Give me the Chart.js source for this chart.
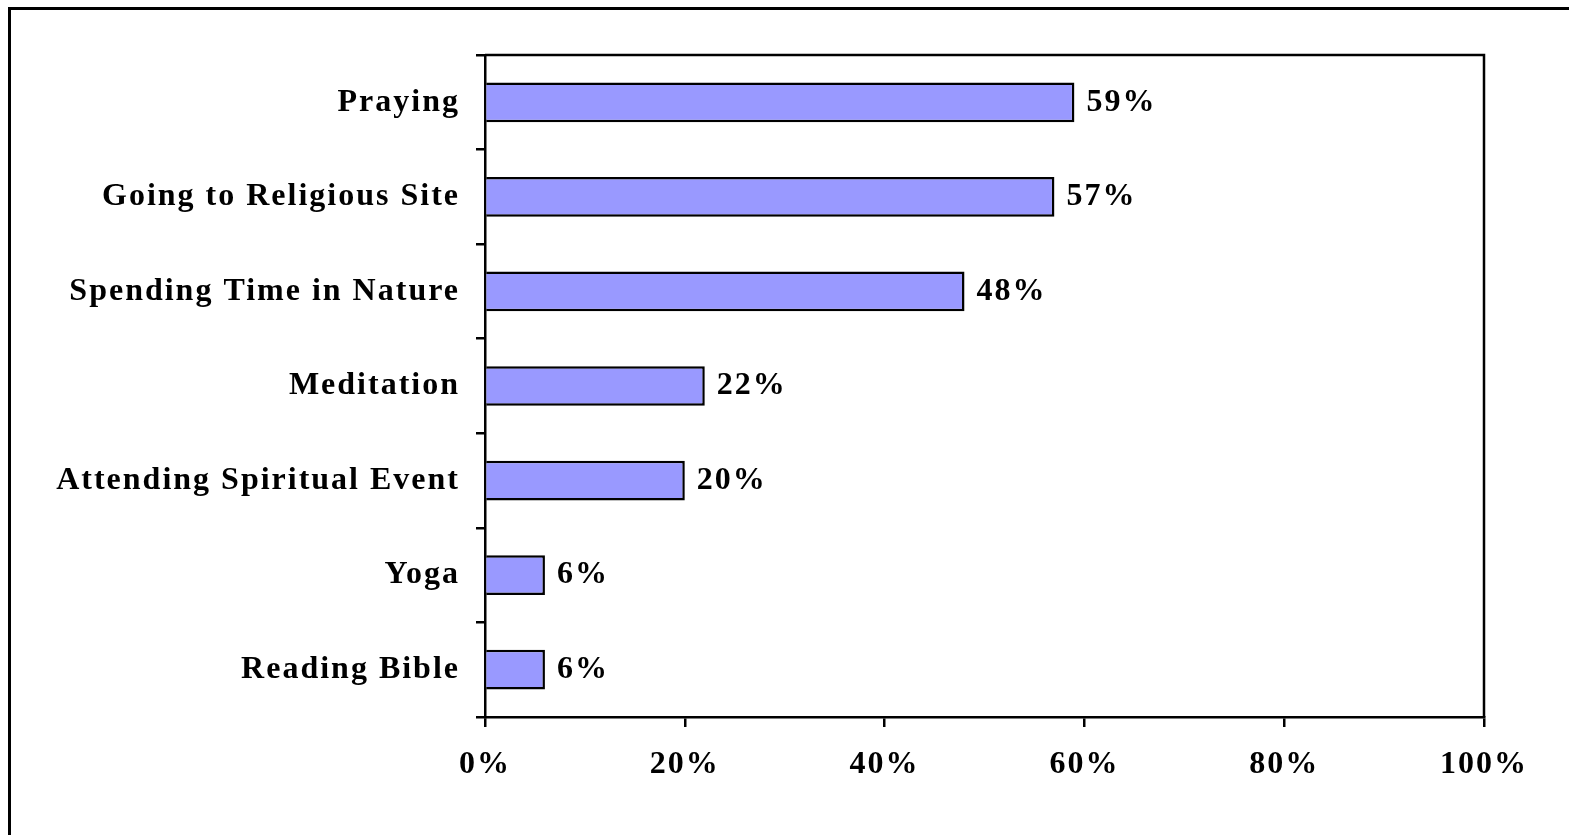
<!DOCTYPE html>
<html>
<head>
<meta charset="utf-8">
<script src="https://cdn.jsdelivr.net/npm/chart.js@4/dist/chart.umd.min.js"></script>
<style>
  html, body { margin: 0; padding: 0; background: #fff; }
  #wrap { position: relative; width: 1569px; height: 835px; overflow: hidden; }
  #frame { position: absolute; left: 8px; top: 7px; width: 1600px; height: 900px; border-left: 3px solid #000; border-top: 3px solid #000; box-sizing: border-box; }
  #c { position: absolute; left: 0; top: 0; }
</style>
</head>
<body>
<div id="wrap">
  <div id="frame"></div>
  <canvas id="c" width="1569" height="835"></canvas>
</div>
<script>
const categories = ["Praying", "Going to Religious Site", "Spending Time in Nature", "Meditation", "Attending Spiritual Event", "Yoga", "Reading Bible"];
const values = [59, 57, 48, 22, 20, 6, 6];
const xTicks = [0, 20, 40, 60, 80, 100];

const FONT = "'Liberation Serif', 'Times New Roman', serif";
const SPACING = '2px';

const spacingPlugin = {
  id: 'spacing',
  beforeLayout(chart) { chart.ctx.letterSpacing = SPACING; },
  beforeDraw(chart) { chart.ctx.letterSpacing = SPACING; }
};

const borderPlugin = {
  id: 'areaBorder',
  afterDraw(chart) {
    const { ctx, chartArea: a } = chart;
    ctx.save();
    ctx.strokeStyle = '#000';
    ctx.lineWidth = 2.5;
    ctx.beginPath();
    ctx.moveTo(a.left, a.top);
    ctx.lineTo(a.right, a.top);
    ctx.lineTo(a.right, a.bottom);
    ctx.stroke();
    ctx.restore();
  }
};

const valueLabels = {
  id: 'valueLabels',
  afterDatasetsDraw(chart) {
    const { ctx } = chart;
    const meta = chart.getDatasetMeta(0);
    ctx.save();
    ctx.letterSpacing = SPACING;
    ctx.fillStyle = '#000';
    ctx.font = "bold 32px " + FONT;
    ctx.textAlign = 'left';
    ctx.textBaseline = 'middle';
    meta.data.forEach((bar, i) => {
      ctx.fillText(values[i] + '%', bar.x + 12, bar.y);
    });
    ctx.restore();
  }
};

new Chart(document.getElementById('c'), {
  type: 'bar',
  data: {
    labels: categories,
    datasets: [{
      data: values,
      backgroundColor: '#9999FF',
      borderColor: '#000',
      borderWidth: 2.5,
      barPercentage: 0.42,
      categoryPercentage: 1.0
    }]
  },
  options: {
    indexAxis: 'y',
    responsive: false,
    animation: false,
    devicePixelRatio: 1,
    layout: { padding: { left: 0, top: 55, right: 85, bottom: 38 } },
    plugins: { legend: { display: false }, tooltip: { enabled: false } },
    scales: {
      x: {
        min: 0, max: 100,
        afterBuildTicks(scale) { scale.ticks = xTicks.map(v => ({ value: v })); },
        afterFit(scale) { scale.height = 80; },
        border: { display: true, color: '#000', width: 2.5 },
        grid: { drawOnChartArea: false, color: '#000', lineWidth: 2.5, tickLength: 10 },
        ticks: {
          color: '#000',
          padding: 19,
          maxRotation: 0,
          font: { family: FONT, size: 32, weight: 'bold' },
          callback: v => v + '%'
        }
      },
      y: {
        afterFit(scale) { scale.width = 485; },
        border: { display: true, color: '#000', width: 2.5 },
        grid: { drawOnChartArea: false, color: '#000', lineWidth: 2.5, tickLength: 9, offset: true },
        ticks: {
          color: '#000',
          padding: 16,
          font: { family: FONT, size: 32, weight: 'bold' }
        }
      }
    }
  },
  plugins: [spacingPlugin, borderPlugin, valueLabels]
});
</script>
</body>
</html>
